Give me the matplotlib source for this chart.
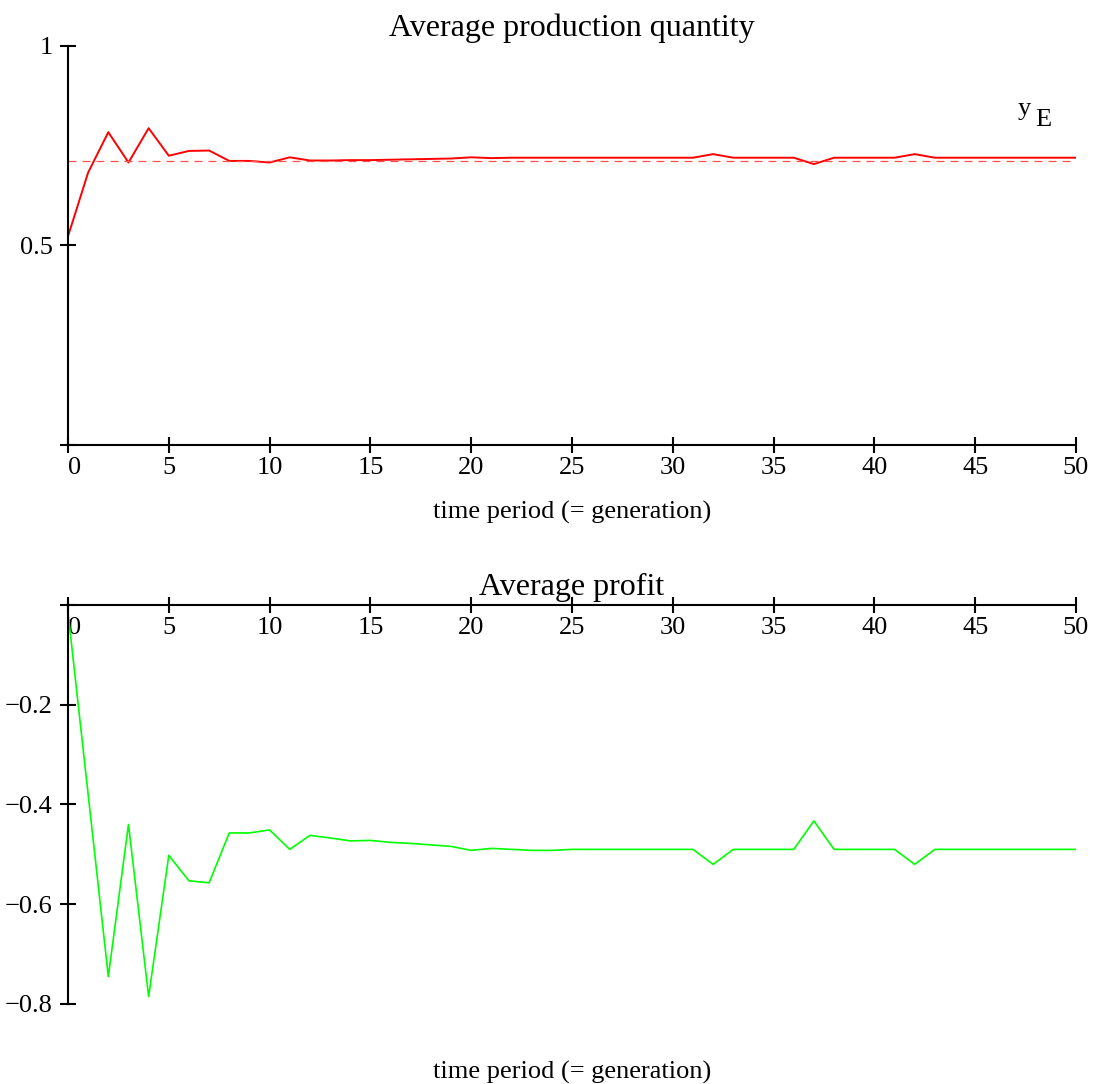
import matplotlib
matplotlib.use("Agg")
import matplotlib.pyplot as plt
import matplotlib.transforms as mtrans

plt.rcParams['font.family'] = ['Liberation Serif', 'DejaVu Serif']

t = list(range(51))

# average production quantity per generation
y_avg = [0.523, 0.683, 0.784, 0.708, 0.794, 0.725, 0.737, 0.738, 0.712, 0.712,
         0.708, 0.721, 0.713, 0.713, 0.714, 0.714, 0.715, 0.716, 0.717, 0.718,
         0.721, 0.719, 0.720, 0.720, 0.720, 0.720, 0.720, 0.720, 0.720, 0.720,
         0.720, 0.720, 0.729, 0.720, 0.720, 0.720, 0.720, 0.704, 0.720, 0.720,
         0.720, 0.720, 0.729, 0.720, 0.720, 0.720, 0.720, 0.720, 0.720, 0.720,
         0.720]
y_E = 0.713

# average profit per generation
profit = [-0.015, -0.38, -0.745, -0.44, -0.785, -0.502, -0.553, -0.557, -0.457, -0.457,
          -0.451, -0.49, -0.462, -0.467, -0.473, -0.472, -0.476, -0.478, -0.481, -0.484,
          -0.492, -0.488, -0.490, -0.492, -0.492, -0.490, -0.490, -0.490, -0.490, -0.490,
          -0.490, -0.490, -0.520, -0.490, -0.490, -0.490, -0.490, -0.433, -0.490, -0.490,
          -0.490, -0.490, -0.520, -0.490, -0.490, -0.490, -0.490, -0.490, -0.490, -0.490,
          -0.490]

xticks = [0, 5, 10, 15, 20, 25, 30, 35, 40, 45, 50]

fig = plt.figure(figsize=(10.98, 10.84), dpi=100)
ax1 = fig.add_axes([68/1098, 1-445/1084, 1008/1098, 399/1084])
ax2 = fig.add_axes([68/1098, 1-1004/1084, 1008/1098, 402/1084])


def style(ax):
    for s in ['top', 'right']:
        ax.spines[s].set_visible(False)
    for s in ['left', 'bottom']:
        ax.spines[s].set_linewidth(1.5)
    ax.tick_params(direction='inout', length=12, width=1.5, labelsize=19, pad=3)
    ax.tick_params(axis='y', pad=5)
    ax.set_xlim(0, 50)
    ax.set_xticks(xticks)
    # shift the "0" label off the y axis a bit
    lab = ax.get_xticklabels()[0]
    lab.set_transform(lab.get_transform() + mtrans.ScaledTranslation(7/100, 0, fig.dpi_scale_trans))


# top panel
ax1.plot(t, y_avg, color='red', lw=1.4)
ax1.axhline(y_E, color='#ff5050', lw=0.9, dashes=(6.4, 4.8))
ax1.set_ylim(0, 1)
ax1.set_yticks([0, 0.5, 1])
ax1.set_yticklabels(['', '0.5', '1'])
style(ax1)
ax1.set_title('Average production quantity', fontsize=23, pad=7)
ax1.set_xlabel('time period (= generation)', fontsize=19)
ax1.xaxis.set_label_coords(0.5, -0.14)
ax1.text(47.44, 0.8275, 'y', fontsize=19, ha='center', va='baseline')
ax1.text(48.4, 0.80, 'E', fontsize=19, ha='center', va='baseline')

# bottom panel
ax2.plot(t, profit, color='#00ff00', lw=1.2)
ax2.set_ylim(-0.8, 0.006)
ax2.spines['bottom'].set_position(('data', 0))
ax2.set_yticks([0, -0.2, -0.4, -0.6, -0.8])
ax2.set_yticklabels(['', '\u22120.2', '\u22120.4', '\u22120.6', '\u22120.8'])
style(ax2)
ax2.set_title('Average profit', fontsize=23, pad=0)
fig.text(0.5 * (68 + 1076) / 1098, 1 - 1072/1084, 'time period (= generation)',
         fontsize=19, ha='center', va='center')

fig.savefig('out.png', dpi=100)
